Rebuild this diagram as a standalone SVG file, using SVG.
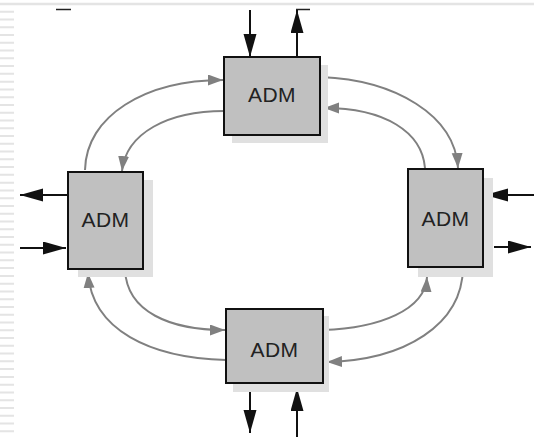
<svg xmlns="http://www.w3.org/2000/svg" width="534" height="437" viewBox="0 0 534 437">
  <style>
    .box { fill: #c0c0c0; stroke: #111; stroke-width: 2; }
    .shadow { fill: #e0e0e0; }
    .label { font-family: "Liberation Sans", Arial, sans-serif; font-size: 21px; letter-spacing: 0.5px; fill: #222; text-anchor: middle; dominant-baseline: central; }
    .ring { fill: none; stroke: #808080; stroke-width: 2; marker-end: url(#grayHead); }
    .trib { fill: none; stroke: #111; stroke-width: 2; marker-end: url(#blackHead); }
  </style>
  <defs>
    <marker id="blackHead" markerUnits="userSpaceOnUse" markerWidth="24" markerHeight="14" refX="23" refY="6.5" orient="auto">
      <path d="M0,0 L23,6.5 L0,13 z" fill="#111"/>
    </marker>
    <marker id="grayHead" markerUnits="userSpaceOnUse" markerWidth="16" markerHeight="12" refX="15" refY="5.5" orient="auto">
      <path d="M0,0 L15,5.5 L0,11 z" fill="#808080"/>
    </marker>
  </defs>

  <rect width="534" height="437" fill="#fff"/>

  <!-- page decoration: top rule and left margin stripes -->
  <line x1="0" y1="4" x2="534" y2="4" stroke="#e4e4e4" stroke-width="2.5"/>
  <line x1="7" y1="10.7" x2="7" y2="437" stroke="#e4e4e4" stroke-width="14" stroke-dasharray="2 5.77"/>
  <line x1="56" y1="9.5" x2="71" y2="9.5" stroke="#222" stroke-width="1.5"/>
  <line x1="296" y1="9.5" x2="310" y2="9.5" stroke="#222" stroke-width="1.5"/>

  <!-- ring fibres between the multiplexers -->
  <g id="connectors">
    <path class="ring" d="M85,170 C86,116 145,80 223,80"/>
    <path class="ring" d="M224,111 C168,111 126,133 122,171"/>
    <path class="ring" d="M321,77 C395,80 455,115 458,168"/>
    <path class="ring" d="M425,168 C422,132 385,108 324,108"/>
    <path class="ring" d="M226,360 C150,358 92,330 88,273"/>
    <path class="ring" d="M125,270 C127,312 170,330 225,330"/>
    <path class="ring" d="M463,268 C462,325 405,360 327,362"/>
    <path class="ring" d="M323,330 C380,328 425,310 427,277"/>

    <!-- tributary add/drop lines -->
    <path class="trib" d="M250,10 L250,57"/>
    <path class="trib" d="M297,57 L297,10"/>
    <path class="trib" d="M68,195 L20,195"/>
    <path class="trib" d="M20,248 L66,248"/>
    <path class="trib" d="M534,195 L485,195"/>
    <path class="trib" d="M494,247 L531,247"/>
    <path class="trib" d="M250,383 L250,433"/>
    <path class="trib" d="M297,437 L297,388"/>
  </g>

  <g id="adm-top">
    <rect class="shadow" x="232" y="65" width="96" height="78"/>
    <rect class="box" x="224" y="57" width="96" height="78"/>
    <text class="label" x="272" y="94">ADM</text>
  </g>

  <g id="adm-left">
    <rect class="shadow" x="78" y="180" width="75" height="97"/>
    <rect class="box" x="68" y="172" width="75" height="97"/>
    <text class="label" x="105.5" y="219">ADM</text>
  </g>

  <g id="adm-right">
    <rect class="shadow" x="418" y="178" width="75" height="99"/>
    <rect class="box" x="408" y="169" width="75" height="98"/>
    <text class="label" x="445.5" y="218">ADM</text>
  </g>

  <g id="adm-bottom">
    <rect class="shadow" x="233" y="316" width="96" height="76"/>
    <rect class="box" x="226" y="309" width="97" height="74"/>
    <text class="label" x="274.5" y="349">ADM</text>
  </g>
</svg>
